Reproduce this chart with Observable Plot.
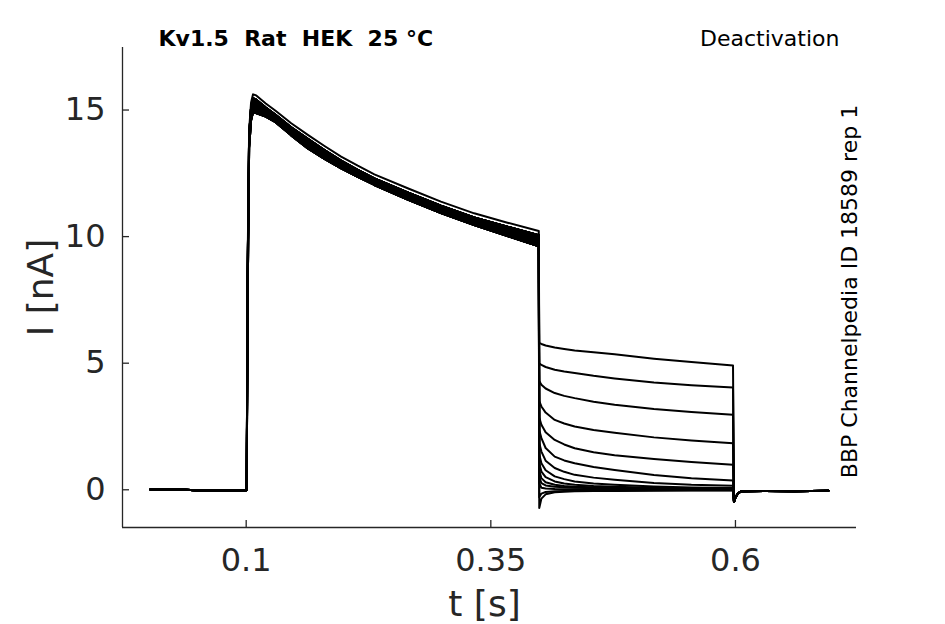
<!DOCTYPE html>
<html>
<head>
<meta charset="utf-8">
<script src="https://cdn.jsdelivr.net/npm/d3@7"></script>
<script src="https://cdn.jsdelivr.net/npm/@observablehq/plot@0.6"></script>
<style>
  html, body { margin: 0; padding: 0; background: white; }
  #chart { width: 945px; height: 624px; }
</style>
</head>
<body>
<div id="chart"></div>
<script>
// ---- text ----
const titleText = "Kv1.5  Rat  HEK  25 °C";
const protocolText = "Deactivation";
const sourceText = "BBP Channelpedia ID 18589 rep 1";
const xLabel = "t [s]";
const yLabel = "I [nA]";

// ---- axes ----
const xDomain = [-0.0264, 0.7237];
const yDomain = [-1.49, 17.47];
const xTicks = [0.1, 0.35, 0.6];
const xTickLabels = ["0.1", "0.35", "0.6"];
const yTicks = [0, 5, 10, 15];
const yTickLabels = ["0", "5", "10", "15"];

// ---- holding baseline before the step (s, nA) ----
const baseT = [0.002, 0.03, 0.047, 0.07, 0.1, 0.1005];
const baseI = [0.01, 0.02, -0.02, -0.03, -0.02, 0.0];

// ---- activation phase (s, nA): top trace, upper and lower edge of the sweep bundle ----
const actT     = [0.1005, 0.1015, 0.103, 0.105, 0.107, 0.11, 0.12, 0.13, 0.146, 0.163, 0.18, 0.197, 0.214, 0.231, 0.265, 0.299, 0.333, 0.367, 0.399];
const actTop   = [0, 9.0, 14.2, 15.3, 15.62, 15.58, 15.26, 14.97, 14.48, 14.02, 13.58, 13.16, 12.8, 12.46, 11.91, 11.38, 10.92, 10.55, 10.22];
const actUpper = [0, 8.6, 14.0, 15.12, 15.46, 15.42, 15.1, 14.81, 14.32, 13.86, 13.42, 13.0, 12.64, 12.3, 11.75, 11.22, 10.76, 10.39, 10.06];
const actLower = [0, 7.5, 13.5, 14.6, 14.92, 14.88, 14.74, 14.52, 14.0, 13.48, 13.07, 12.7, 12.36, 12.04, 11.46, 10.93, 10.46, 10.02, 9.62];

// ---- tail currents after the step to the test potential (s, nA), one per sweep ----
const tailT  = [0.3995, 0.4017, 0.406, 0.4153, 0.425, 0.4357, 0.455, 0.4765, 0.5167, 0.555, 0.5975];
const tail01 = [5.8, 5.76, 5.7, 5.62, 5.56, 5.5, 5.43, 5.35, 5.18, 5.05, 4.91];
const tail02 = [5.0, 4.93, 4.85, 4.74, 4.67, 4.61, 4.5, 4.40, 4.24, 4.13, 4.04];
const tail03 = [4.3, 4.15, 4.0, 3.82, 3.71, 3.62, 3.48, 3.36, 3.19, 3.07, 2.96];
const tail04 = [3.5, 3.29, 3.05, 2.76, 2.62, 2.50, 2.36, 2.25, 2.07, 1.95, 1.84];
const tail05 = [2.85, 2.57, 2.27, 1.97, 1.79, 1.64, 1.48, 1.36, 1.22, 1.10, 0.99];
const tail06 = [2.35, 2.04, 1.65, 1.31, 1.16, 1.05, 0.90, 0.78, 0.58, 0.46, 0.37];
const tail07 = [1.85, 1.51, 1.15, 0.86, 0.71, 0.59, 0.48, 0.40, 0.27, 0.20, 0.16];
const tail08 = [1.4, 1.05, 0.77, 0.53, 0.42, 0.33, 0.25, 0.20, 0.13, 0.09, 0.07];
const tail09 = [1.05, 0.72, 0.5, 0.33, 0.25, 0.20, 0.15, 0.12, 0.08, 0.06, 0.05];
const tail10 = [0.75, 0.46, 0.3, 0.20, 0.15, 0.12, 0.10, 0.08, 0.05, 0.04, 0.03];
const tail11 = [0.5, 0.26, 0.17, 0.12, 0.10, 0.08, 0.06, 0.05, 0.04, 0.03, 0.02];
const tail12 = [0.25, 0.08, 0.05, 0.03, 0.02, 0.02, 0.01, 0.01, 0.01, 0.0, 0.0];
const tail13 = [-0.3, -0.15, -0.09, -0.06, -0.05, -0.04, -0.03, -0.03, -0.02, -0.02, -0.02];
const tail14 = [-0.72, -0.35, -0.18, -0.1, -0.08, -0.06, -0.05, -0.05, -0.04, -0.03, -0.03];
const tails = [tail01, tail02, tail03, tail04, tail05, tail06, tail07, tail08, tail09, tail10, tail11, tail12, tail13, tail14];
// which activation trace each sweep follows
const sweepActivation = ["upper", "lower", "upper", "lower", "upper", "lower", "top", "upper", "lower", "upper", "lower", "upper", "lower", "upper"];

// ---- return to holding potential (s, nA) ----
const postT = [0.5985, 0.600, 0.6025, 0.605, 0.61, 0.63, 0.66, 0.695];
const postI = [-0.48, -0.3, -0.15, -0.08, -0.06, -0.05, -0.06, -0.04];

const actCurves = {top: actTop, upper: actUpper, lower: actLower};

// ---- build a long table of points ----
const rows = [];
tails.forEach((tail, s) => {
  baseT.forEach((t, i) => rows.push({sweep: s, t, I: baseI[i]}));
  const act = actCurves[sweepActivation[s]];
  actT.forEach((t, i) => { if (i > 0) rows.push({sweep: s, t, I: act[i]}); });
  tailT.forEach((t, i) => rows.push({sweep: s, t, I: tail[i]}));
  postT.forEach((t, i) => rows.push({sweep: s, t, I: postI[i]}));
});
const band = actT.map((t, i) => ({t, lo: actLower[i], hi: actUpper[i]}));

const axisColor = "#262626";
const font = "DejaVu Sans";

const chart = Plot.plot({
  width: 945,
  height: 624,
  marginLeft: 122,
  marginRight: 89,
  marginTop: 47,
  marginBottom: 97,
  x: {domain: xDomain},
  y: {domain: yDomain},
  style: {fontFamily: font, background: "white", color: axisColor},
  marks: [
    // axis lines
    Plot.ruleX([xDomain[0]], {stroke: axisColor, strokeWidth: 1.3}),
    Plot.ruleY([yDomain[0]], {stroke: axisColor, strokeWidth: 1.3}),
    // inward ticks
    Plot.axisX({ticks: xTicks, tickSize: 7, dy: -7, tickFormat: () => "", label: null, stroke: axisColor, strokeWidth: 1.3}),
    Plot.axisY({ticks: yTicks, tickSize: 7, dx: 7, tickFormat: () => "", label: null, stroke: axisColor, strokeWidth: 1.3}),
    // tick labels
    Plot.axisX({ticks: xTicks, tickSize: 0, tickPadding: 21, fontSize: 32, fill: axisColor, label: null,
      tickFormat: d => xTickLabels[xTicks.indexOf(d)]}),
    Plot.axisY({ticks: yTicks, tickSize: 0, tickPadding: 17, fontSize: 32, fill: axisColor, label: null,
      tickFormat: d => yTickLabels[yTicks.indexOf(d)]}),
    // bundle of overlapping activation sweeps
    Plot.areaY(band, {x: "t", y1: "lo", y2: "hi", fill: "black"}),
    // sweeps
    Plot.line(rows, {x: "t", y: "I", z: "sweep", stroke: "black", strokeWidth: 2, curve: "linear"}),
    // labels
    Plot.text([xLabel], {frameAnchor: "bottom", dx: -5, dy: 88, textAnchor: "middle", lineAnchor: "bottom", fontSize: 36, fill: axisColor}),
    Plot.text([yLabel], {frameAnchor: "left", dx: -70, rotate: -90, textAnchor: "middle", lineAnchor: "bottom", fontSize: 36, fill: axisColor}),
    Plot.text([titleText], {frameAnchor: "top-left", dx: 36, dy: -2, textAnchor: "start", lineAnchor: "bottom", fontSize: 22, fontWeight: "bold", fill: "black"}),
    Plot.text([protocolText], {frameAnchor: "top-right", dx: -17, dy: -2, textAnchor: "end", lineAnchor: "bottom", fontSize: 22, fill: "black"}),
    Plot.text([sourceText], {frameAnchor: "right", dy: 4, rotate: -90, textAnchor: "middle", lineAnchor: "bottom", fontSize: 22, fill: "black"})
  ]
});
document.getElementById("chart").appendChild(chart);
</script>
</body>
</html>
